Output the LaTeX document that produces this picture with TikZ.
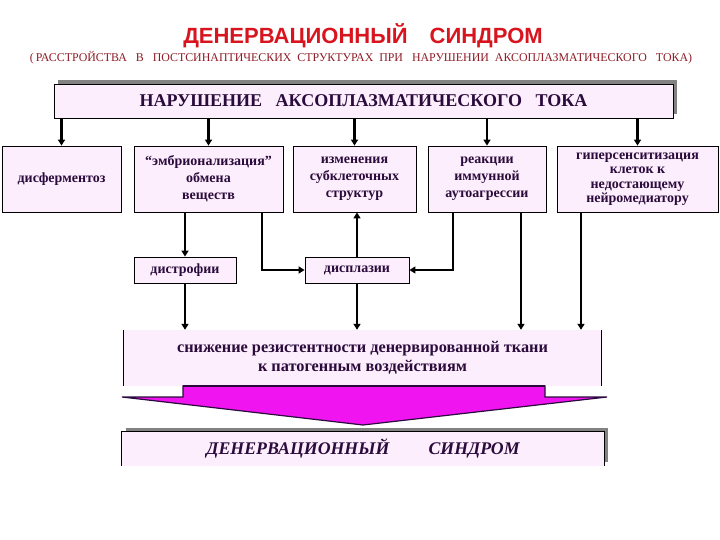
\documentclass[tikz,border=0pt]{standalone}
\usepackage{fontspec}
\setmainfont{Liberation Serif}
\newfontfamily\headfont{Liberation Sans}
\usetikzlibrary{arrows.meta,positioning,calc}
\definecolor{boxfill}{HTML}{FCEEFC}
\definecolor{ink}{HTML}{2A0B3C}
\definecolor{titlered}{HTML}{D8141E}
\definecolor{subred}{HTML}{8E1B26}
\definecolor{shadowgray}{HTML}{828282}
\definecolor{bigpink}{HTML}{F014F0}

\begin{document}
\begin{tikzpicture}[x=1pt,y=-1pt]
    \tikzset{
      box/.style={draw=black,line width=0.8pt,fill=boxfill,align=center,text=ink,font=\bfseries\fontsize{14}{17}\selectfont,inner sep=2pt},
      band/.style={fill=boxfill,align=center,text=ink,inner sep=2pt},
      arrow/.style={-{Triangle[length=6pt,width=7pt]},draw=black,line width=2.6pt}
    }
    \useasboundingbox (0,0) rectangle (720,540);
    % heading
    \node[font=\headfont\bfseries\fontsize{22}{24}\selectfont,text=titlered] (title) at (363,36) {ДЕНЕРВАЦИОННЫЙ\hspace{1em}СИНДРОМ};
    \node[font=\fontsize{11.9}{13}\selectfont,text=subred] (subtitle) at (361,58) {(\,РАССТРОЙСТВА\ \ \ В\ \ \ ПОСТСИНАПТИЧЕСКИХ\ \ СТРУКТУРАХ\ \ ПРИ\ \ \ НАРУШЕНИИ\ \ АКСОПЛАЗМАТИЧЕСКОГО\ \ \ ТОКА)};
    % top box with shadow
    \fill[shadowgray] (58,80) rectangle (677,114);
    \node[box,minimum width=619,minimum height=34,font=\bfseries\fontsize{18}{20}\selectfont] (flow) at (363.5,101) {НАРУШЕНИЕ\ \ \ АКСОПЛАЗМАТИЧЕСКОГО\ \ \ ТОКА};
    % second row
    \node[box,minimum width=119,minimum height=66] (disf) at (61.5,179) {дисферментоз};
    \node[box,minimum width=149,minimum height=66] (embr) at (208.5,179) {“эмбрионализация”\\обмена\\веществ};
    \node[box,minimum width=123,minimum height=66] (izm) at (354.5,179) {изменения\\субклеточных\\структур};
    \node[box,minimum width=118,minimum height=66] (reak) at (487,179) {реакции\\иммунной\\аутоагрессии};
    \node[box,minimum width=161,minimum height=66,font=\bfseries\fontsize{14}{14.5}\selectfont] (giper) at (637.5,179) {гиперсенситизация\\клеток к\\недостающему\\нейромедиатору};
    % third row
    \node[box,minimum width=102,minimum height=26] (distr) at (185,270) {дистрофии};
    \node[box,minimum width=104,minimum height=26] (displ) at (357,270) {дисплазии};
    % result
    \node[band,minimum width=477,minimum height=56,font=\bfseries\fontsize{16.3}{18.5}\selectfont] (resist) at (362.5,358) {снижение резистентности денервированной ткани\\к патогенным воздействиям};
    \draw[line width=0.8pt] (resist.north west) -- (resist.south west);
    \draw[line width=0.8pt] (resist.north east) -- (resist.south east);
    % broad arrow
    \filldraw[fill=bigpink,draw=ink,line width=1.2pt,line join=miter]
      (183,386) -- (545,386) -- (545,397) -- (607,397) -- (363,425) -- (122,397) -- (183,397) -- cycle;
    \draw[ink,line width=2pt] (183,386) -- (545,386);
    % final box with shadow
    \fill[shadowgray] (126,428) rectangle (608,462);
    \node[band,minimum width=482,minimum height=34,font=\bfseries\itshape\fontsize{17.8}{20}\selectfont] (synd) at (363,449) {ДЕНЕРВАЦИОННЫЙ\hspace{2.2em}СИНДРОМ};
    \draw[line width=0.8pt] (synd.south west) |- (synd.north east) -- (synd.south east);
    % connectors
    \draw[arrow] (flow.south -| disf) -- (disf.north);
    \draw[arrow] (flow.south -| embr) -- (embr.north);
    \draw[arrow] (flow.south -| izm) -- (izm.north);
    \draw[arrow] (flow.south -| reak) -- (reak.north);
    \draw[arrow] (flow.south -| giper) -- (giper.north);
    \draw[arrow] (embr.south -| distr) -- (distr.north);
    \draw[arrow] ([xshift=53.5pt]embr.south) |- (displ.west);
    \draw[arrow] (displ.north) -- (displ.north |- izm.south);
    \draw[arrow] ([xshift=-34pt]reak.south) |- (displ.east);
    \draw[arrow] (distr.south) -- (distr.south |- resist.north);
    \draw[arrow] (displ.south) -- (displ.south |- resist.north);
    \draw[arrow] ([xshift=34pt]reak.south) -- ([xshift=34pt]reak.south |- resist.north);
    \draw[arrow] ([xshift=-56.5pt]giper.south) -- ([xshift=-56.5pt]giper.south |- resist.north);
  \end{tikzpicture}
\end{document}
